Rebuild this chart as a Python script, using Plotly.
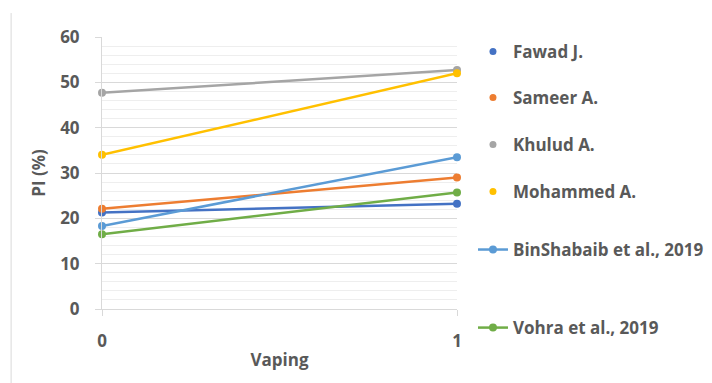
import plotly.graph_objects as go

# PI (%) without (0) and with (1) vaping, per study
vaping = [0, 1]
fawad = [21.3, 23.2]
sameer = [22.1, 29.0]
khulud = [47.7, 52.7]
mohammed = [34.0, 52.0]
binshabaib = [18.3, 33.5]
vohra = [16.5, 25.7]

names = ["Fawad J.", "Sameer A.", "Khulud A.", "Mohammed A.",
         "BinShabaib et al., 2019", "Vohra et al., 2019"]
series = [fawad, sameer, khulud, mohammed, binshabaib, vohra]
colors = ["#4472C4", "#ED7D31", "#A5A5A5", "#FFC000", "#5B9BD5", "#70AD47"]
legend_ids = ["legend", "legend2", "legend3", "legend4", "legend5", "legend6"]
# the first four studies show a dot only in the key
dot_only = [True, True, True, True, False, False]

TEXT = "#595959"
FONT = dict(family="Open Sans", size=17, color=TEXT, weight="bold")

fig = go.Figure()
for name, vals, col, lg, dot in zip(names, series, colors, legend_ids, dot_only):
    fig.add_trace(go.Scatter(
        x=vaping, y=vals, mode="lines+markers", name=name,
        line=dict(color=col, width=2.5),
        marker=dict(color=col, size=8),
        cliponaxis=False, showlegend=not dot, legend=lg,
    ))
    if dot:
        fig.add_trace(go.Scatter(
            x=[None], y=[None], mode="markers", name=name,
            marker=dict(color=col, size=7), legend=lg, showlegend=True,
        ))

legend_y = [0.945, 0.776, 0.603, 0.430, 0.217, -0.070]
legend_layout = {}
for lg, ly in zip(legend_ids, legend_y):
    legend_layout[lg] = dict(
        x=1.045, y=ly, xanchor="left", yanchor="middle",
        font=FONT, bgcolor="rgba(0,0,0,0)", itemwidth=30,
    )

fig.update_layout(
    width=712, height=383,
    margin=dict(l=102, r=255, t=37, b=74, autoexpand=False),
    paper_bgcolor="white", plot_bgcolor="white",
    font=FONT,
    xaxis=dict(
        range=[0, 1], tickvals=[0, 1], ticktext=["0", "1"],
        showgrid=True, gridcolor="#D9D9D9", gridwidth=1,
        showline=True, linecolor="#D9D9D9", linewidth=1,
        ticks="outside", ticklen=6, tickcolor="#D9D9D9",
        ticklabelstandoff=11, zeroline=False,
        title=dict(text="Vaping", font=FONT, standoff=2),
        tickfont=FONT,
    ),
    yaxis=dict(
        range=[0, 60], dtick=10,
        showgrid=True, gridcolor="#D9D9D9", gridwidth=1,
        minor=dict(dtick=2, showgrid=True, gridcolor="#EEEEEE", gridwidth=1),
        showline=True, linecolor="#D9D9D9", linewidth=1,
        ticks="outside", ticklen=6, tickcolor="#D9D9D9",
        ticklabelstandoff=12, zeroline=False,
        title=dict(text="PI (%)", font=FONT, standoff=10),
        tickfont=FONT,
    ),
    shapes=[dict(
        type="line", xref="paper", yref="paper",
        x0=-0.256, x1=-0.256, y0=1.088, y1=-0.28,
        line=dict(color="#D9D9D9", width=1),
    )],
    **legend_layout,
)

fig.write_html("out.html")
